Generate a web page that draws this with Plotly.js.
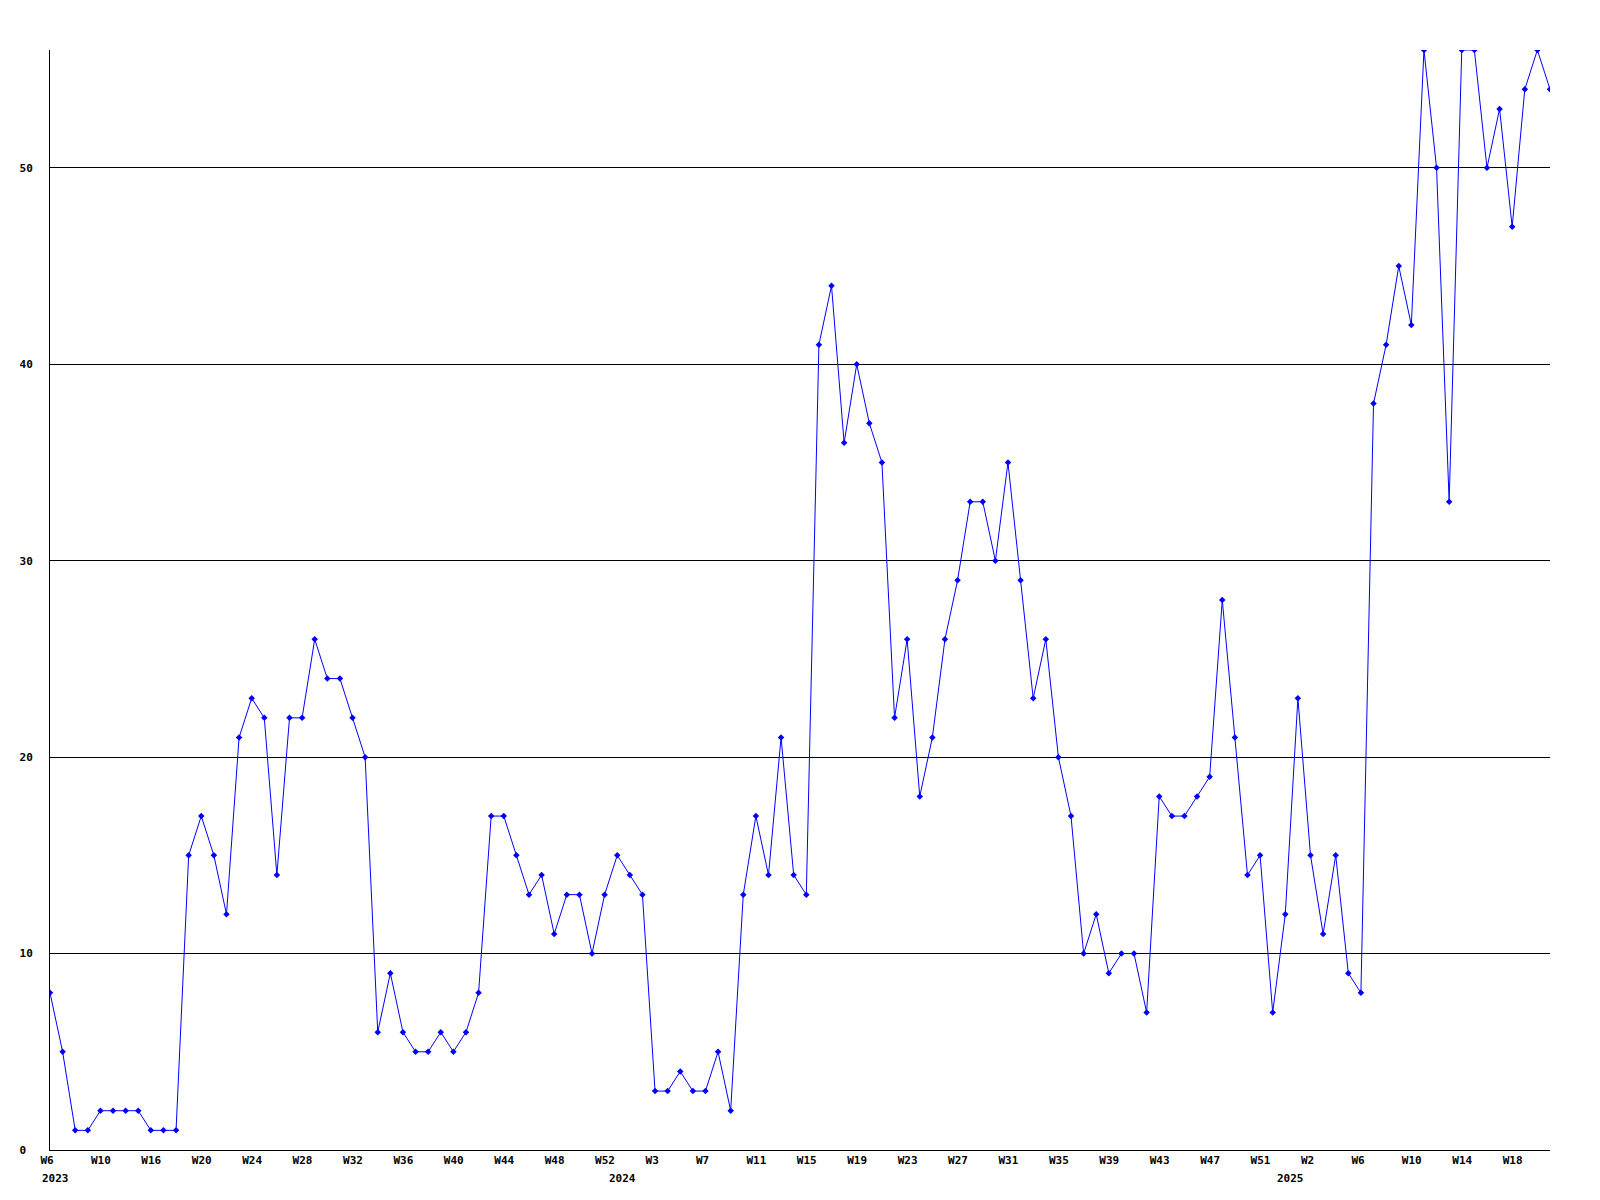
<!DOCTYPE html>
<html>
<head>
<meta charset="utf-8">
<script src="https://cdn.plot.ly/plotly-3.0.1.min.js"></script>
<style>
html,body{margin:0;padding:0;background:#fff;}
#chart{width:1600px;height:1200px;}
</style>
</head>
<body>
<div id="chart"></div>
<script>
// Weekly values, 2023 W6 .. 2025 W21 (one per week index)
const values = [
  8, 5, 1, 1, 2, 2, 2, 2, 1, 1,
  1, 15, 17, 15, 12, 21, 23, 22, 14, 22,
  22, 26, 24, 24, 22, 20, 6, 9, 6, 5,
  5, 6, 5, 6, 8, 17, 17, 15, 13, 14,
  11, 13, 13, 10, 13, 15, 14, 13, 3, 3,
  4, 3, 3, 5, 2, 13, 17, 14, 21, 14,
  13, 41, 44, 36, 40, 37, 35, 22, 26, 18,
  21, 26, 29, 33, 33, 30, 35, 29, 23, 26,
  20, 17, 10, 12, 9, 10, 10, 7, 18, 17,
  17, 18, 19, 28, 21, 14, 15, 7, 12, 23,
  15, 11, 15, 9, 8, 38, 41, 45, 42, 56,
  50, 33, 56, 56, 50, 53, 47, 54, 56, 54
];
const weekIndex = values.map((v, i) => i);

// x-axis tick labels (week labels) at week indices
const weekTickPos = [0, 4, 8, 12, 16, 20, 24, 28, 32, 36, 40, 44, 48, 52, 56, 60, 64, 68, 72, 76, 80, 84, 88, 92, 96, 100, 104, 108, 112, 116];
const weekTickText = ["W6", "W10", "W16", "W20", "W24", "W28", "W32", "W36", "W40", "W44", "W48", "W52", "W3", "W7", "W11", "W15", "W19", "W23", "W27", "W31", "W35", "W39", "W43", "W47", "W51", "W2", "W6", "W10", "W14", "W18"];

// year labels at the first week index of each year
const yearPos = [0, 45, 98];
const yearText = ["2023", "2024", "2025"];

// y ticks
const yTickVals = [0, 10, 20, 30, 40, 50];
const yTickText = ["0\u00a0", "10", "20", "30", "40", "50"];

const FONT = {family: "DejaVu Sans Mono, monospace", size: 11, color: "#000", weight: "bold"};

const trace = {
  x: weekIndex,
  y: values,
  type: "scatter",
  mode: "lines+markers",
  line: {color: "#0000ff", width: 1},
  marker: {symbol: "diamond", size: 5, color: "#0000ff"},
  hoverinfo: "x+y",
  showlegend: false
};

const annotations = yearPos.map((p, i) => ({
  x: p, y: 0, xref: "x", yref: "paper",
  text: yearText[i],
  showarrow: false,
  xanchor: "left", yanchor: "top",
  xshift: -10, yshift: -20,
  font: FONT
}));

const layout = {
  width: 1600,
  height: 1200,
  margin: {l: 50, r: 50, t: 50, b: 50},
  paper_bgcolor: "#ffffff",
  plot_bgcolor: "#ffffff",
  font: FONT,
  showlegend: false,
  xaxis: {
    range: [0, 119],
    showgrid: false,
    zeroline: false,
    showline: true,
    linecolor: "#000",
    linewidth: 1,
    ticks: "",
    tickmode: "array",
    tickvals: weekTickPos,
    ticktext: weekTickText,
    tickfont: FONT,
    tickangle: 0,
    ticklabelposition: "outside right",
    ticklabelshift: -10,
    ticklabelstandoff: 0
  },
  yaxis: {
    range: [0, 56],
    showgrid: true,
    gridcolor: "#000",
    gridwidth: 1,
    zeroline: false,
    showline: true,
    linecolor: "#000",
    linewidth: 1,
    ticks: "",
    tickmode: "array",
    tickvals: yTickVals,
    ticktext: yTickText,
    tickfont: FONT,
    ticklabelstandoff: 14
  },
  annotations: annotations
};

Plotly.newPlot("chart", [trace], layout, {staticPlot: true, displayModeBar: false});
</script>
</body>
</html>
